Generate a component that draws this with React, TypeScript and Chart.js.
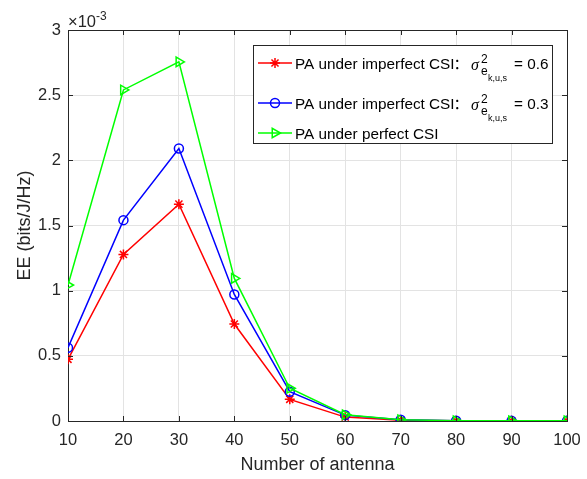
import { useEffect, useRef } from "react";
import Chart from "chart.js/auto";
import { drawPoint } from "chart.js/helpers";

const antennas = [10, 20, 30, 40, 50, 60, 70, 80, 90, 100];
const eeImperfect06 = [0.473, 1.278, 1.664, 0.744, 0.166, 0.03, 0.006, 0.002, 0.001, 0.001];
const eeImperfect03 = [0.562, 1.541, 2.091, 0.971, 0.225, 0.045, 0.009, 0.002, 0.001, 0.001];
const eePerfect = [1.043, 2.54, 2.755, 1.094, 0.251, 0.048, 0.01, 0.002, 0.001, 0.001];
const xTicks = [10, 20, 30, 40, 50, 60, 70, 80, 90, 100];
const yTicks = [0, 0.5, 1, 1.5, 2, 2.5, 3];

const FONT = "'Liberation Sans', Arial, Helvetica, sans-serif";
const AXIS = "#262626";

const legendItems = [
  { color: "#ff0000", style: "star", rotation: 0, radius: 5, value: "= 0.6", math: true, text: "PA under imperfect CSI" },
  { color: "#0000ff", style: "circle", rotation: 0, radius: 4.5, value: "= 0.3", math: true, text: "PA under imperfect CSI" },
  { color: "#00ff00", style: "triangle", rotation: 90, radius: 5.5, value: "", math: false, text: "PA under perfect CSI" },
];

const decorPlugin = {
  id: "decor",
  afterDraw(chart: any) {
    const { ctx, chartArea } = chart;
    const { left, right, top, bottom } = chartArea;
    const xs = chart.scales.x;
    const ys = chart.scales.y;
    ctx.save();
    ctx.strokeStyle = AXIS;
    ctx.lineWidth = 1;
    // box
    ctx.beginPath();
    ctx.moveTo(Math.round(left) + 0.5, Math.round(top) + 0.5);
    ctx.lineTo(Math.round(right) + 0.5, Math.round(top) + 0.5);
    ctx.lineTo(Math.round(right) + 0.5, Math.round(bottom) + 0.5);
    ctx.stroke();
    // inner ticks
    const tl = 5;
    ctx.beginPath();
    xTicks.forEach((v) => {
      const px = Math.round(xs.getPixelForValue(v)) + 0.5;
      ctx.moveTo(px, bottom);
      ctx.lineTo(px, bottom - tl);
      ctx.moveTo(px, top);
      ctx.lineTo(px, top + tl);
    });
    yTicks.forEach((v) => {
      const py = Math.round(ys.getPixelForValue(v)) + 0.5;
      ctx.moveTo(left, py);
      ctx.lineTo(left + tl, py);
      ctx.moveTo(right, py);
      ctx.lineTo(right - tl, py);
    });
    ctx.stroke();

    // exponent
    ctx.fillStyle = AXIS;
    ctx.textBaseline = "alphabetic";
    ctx.textAlign = "left";
    ctx.font = `16.5px ${FONT}`;
    ctx.fillText("\u00d710", left, top - 3);
    const w = ctx.measureText("\u00d710").width;
    ctx.font = `12px ${FONT}`;
    ctx.fillText("-3", left + w, top - 10);

    // legend
    const lx = 253, ly = 45, lw = 299, lh = 98;
    ctx.fillStyle = "#ffffff";
    ctx.fillRect(lx, ly, lw, lh);
    ctx.strokeStyle = AXIS;
    ctx.strokeRect(lx + 0.5, ly + 0.5, lw, lh);
    const rowsY = [63, 103, 133];
    legendItems.forEach((it, i) => {
      const y = rowsY[i];
      ctx.strokeStyle = it.color;
      ctx.fillStyle = "rgba(0,0,0,0)";
      ctx.lineWidth = 1.5;
      ctx.beginPath();
      ctx.moveTo(258, y);
      ctx.lineTo(292, y);
      ctx.stroke();
      drawPoint(ctx, { pointStyle: it.style, rotation: it.rotation, radius: it.radius, borderWidth: 1.5 }, 275, y);
      ctx.fillStyle = "#000000";
      ctx.textAlign = "left";
      ctx.textBaseline = "alphabetic";
      ctx.font = `15.3px ${FONT}`;
      const base = y + 5.5;
      ctx.fillText(it.text, 295, base);
      if (it.math) {
        ctx.font = `15px 'Noto Sans CJK SC', ${FONT}`;
        ctx.textAlign = "center";
        ctx.fillText("\uff1a", 461, base);
        ctx.textAlign = "left";
        ctx.font = `italic 16px 'Liberation Serif', serif`;
        ctx.fillText("\u03c3", 471, base + 1);
        ctx.font = `12px ${FONT}`;
        ctx.fillText("2", 481, base - 6);
        ctx.fillText("e", 481, base + 6);
        ctx.font = `9px ${FONT}`;
        ctx.fillText("k,u,s", 488, base + 12);
        ctx.font = `15.3px ${FONT}`;
        ctx.fillText(it.value, 514, base);
      }
    });
    ctx.restore();
  },
};

function App() {
  const ref = useRef<HTMLCanvasElement | null>(null);
  useEffect(() => {
    if (!ref.current) return;
    const mk = (vals: number[]) => antennas.map((x, i) => ({ x, y: vals[i] }));
    const chart = new Chart(ref.current, {
      type: "line",
      data: {
        datasets: [
          {
            label: "PA under imperfect CSI σ²=0.6",
            data: mk(eeImperfect06),
            borderColor: "#ff0000",
            backgroundColor: "rgba(0,0,0,0)",
            pointStyle: "star",
            pointRadius: 5,
            pointBorderWidth: 1.5,
            borderWidth: 1.5,
            order: 2,
          },
          {
            label: "PA under imperfect CSI σ²=0.3",
            data: mk(eeImperfect03),
            borderColor: "#0000ff",
            backgroundColor: "rgba(0,0,0,0)",
            pointStyle: "circle",
            pointRadius: 4.5,
            pointBorderWidth: 1.5,
            borderWidth: 1.5,
            order: 1,
          },
          {
            label: "PA under perfect CSI",
            data: mk(eePerfect),
            borderColor: "#00ff00",
            backgroundColor: "rgba(0,0,0,0)",
            pointStyle: "triangle",
            pointRotation: 90,
            pointRadius: 5.5,
            pointBorderWidth: 1.5,
            borderWidth: 1.5,
            order: 0,
          },
        ],
      },
      options: {
        animation: false,
        responsive: true,
        maintainAspectRatio: false,
        layout: { padding: { left: 0, top: 30, right: 20, bottom: 0 } },
        plugins: { legend: { display: false }, tooltip: { enabled: false } },
        elements: { line: { tension: 0 } },
        scales: {
          x: {
            type: "linear",
            min: 10,
            max: 100,
            afterBuildTicks: (s: any) => {
              s.ticks = xTicks.map((v) => ({ value: v }));
            },
            afterFit: (s: any) => {
              s.height = 58;
              s.paddingLeft = 0;
              s.paddingRight = 0;
            },
            ticks: {
              color: AXIS,
              font: { family: FONT, size: 16.5 },
              padding: 10,
              maxRotation: 0,
              autoSkip: false,
              callback: (v: any) => String(v),
            },
            grid: { color: "#e3e3e3", drawTicks: false },
            border: { color: AXIS, width: 1 },
            title: {
              display: true,
              text: "Number of antenna",
              color: AXIS,
              font: { family: FONT, size: 18 },
              padding: { top: 0, bottom: 3 },
            },
          },
          y: {
            type: "linear",
            min: 0,
            max: 3,
            afterBuildTicks: (s: any) => {
              s.ticks = yTicks.map((v) => ({ value: v }));
            },
            afterFit: (s: any) => {
              s.width = 68;
            },
            ticks: {
              color: AXIS,
              font: { family: FONT, size: 16.5 },
              padding: 7,
              callback: (v: any) => String(v),
            },
            grid: { color: "#e3e3e3", drawTicks: false },
            border: { color: AXIS, width: 1 },
            title: {
              display: true,
              text: "EE (bits/J/Hz)",
              color: AXIS,
              font: { family: FONT, size: 18 },
              padding: { top: 14, bottom: 0 },
            },
          },
        },
      },
      plugins: [decorPlugin],
    });
    return () => chart.destroy();
  }, []);
  return (
    <div style={{ position: "absolute", left: 0, top: 0, width: 587, height: 479, background: "#ffffff" }}>
      <canvas ref={ref} />
    </div>
  );
}

export default App;
